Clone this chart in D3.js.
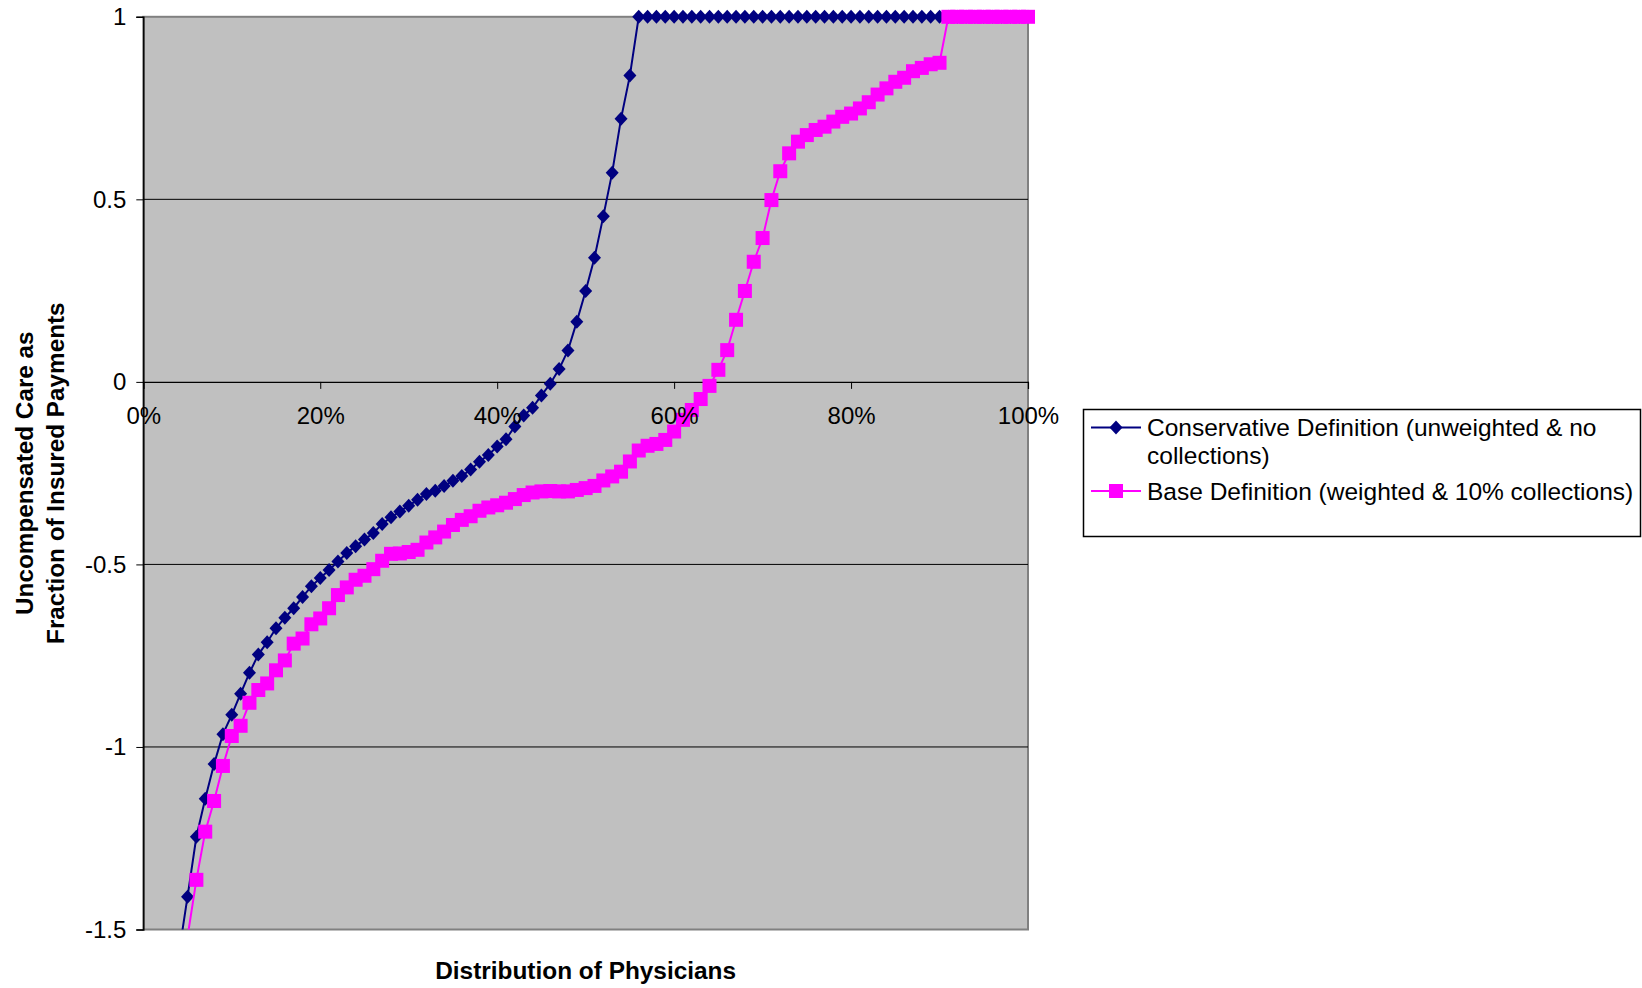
<!DOCTYPE html>
<html>
<head>
<meta charset="utf-8">
<script src="https://cdn.jsdelivr.net/npm/d3@7"></script>
<style>
  html, body { margin: 0; padding: 0; background: #ffffff; }
  svg { display: block; }
  text { font-family: "Liberation Sans", Arial, sans-serif; fill: #000; }
</style>
</head>
<body>
<svg id="chart" width="1642" height="988"></svg>
<script>
// ---- data ----
const pct = [1,2,3,4,5,6,7,8,9,10,11,12,13,14,15,16,17,18,19,20,
  21,22,23,24,25,26,27,28,29,30,31,32,33,34,35,36,37,38,39,40,
  41,42,43,44,45,46,47,48,49,50,51,52,53,54,55,56,57,58,59,60,
  61,62,63,64,65,66,67,68,69,70,71,72,73,74,75,76,77,78,79,80,
  81,82,83,84,85,86,87,88,89,90,91,92,93,94,95,96,97,98,99,100];

const conservative = [null,null,null,-1.57,-1.41,-1.246,-1.142,-1.047,-0.965,-0.912,
  -0.854,-0.797,-0.747,-0.713,-0.675,-0.646,-0.620,-0.589,-0.560,-0.537,
  -0.515,-0.492,-0.469,-0.450,-0.432,-0.414,-0.389,-0.371,-0.355,-0.339,
  -0.323,-0.307,-0.298,-0.285,-0.271,-0.258,-0.240,-0.219,-0.200,-0.177,
  -0.157,-0.122,-0.092,-0.071,-0.037,-0.005,0.035,0.086,0.165,0.249,
  0.340,0.454,0.573,0.721,0.839,1,1,1,1,1,
  1,1,1,1,1,1,1,1,1,1,
  1,1,1,1,1,1,1,1,1,1,
  1,1,1,1,1,1,1,1,1,1,
  1,1,1,1,1,1,1,1,1,1];

const base = [null,null,null,null,-1.52,-1.364,-1.232,-1.148,-1.052,-0.970,
  -0.942,-0.879,-0.844,-0.826,-0.790,-0.763,-0.717,-0.703,-0.664,-0.648,
  -0.620,-0.584,-0.563,-0.542,-0.531,-0.513,-0.490,-0.471,-0.470,-0.466,
  -0.460,-0.440,-0.426,-0.410,-0.392,-0.378,-0.368,-0.353,-0.344,-0.338,
  -0.331,-0.321,-0.310,-0.303,-0.300,-0.299,-0.300,-0.300,-0.296,-0.291,
  -0.285,-0.270,-0.259,-0.246,-0.218,-0.188,-0.175,-0.170,-0.159,-0.136,
  -0.104,-0.077,-0.047,-0.011,0.033,0.087,0.170,0.249,0.329,0.394,
  0.498,0.577,0.626,0.658,0.676,0.690,0.699,0.713,0.726,0.735,
  0.749,0.766,0.787,0.804,0.822,0.833,0.851,0.860,0.870,0.874,
  1,1,1,1,1,1,1,1,1,1];

const xTicks = [0,20,40,60,80,100];
const yTicks = [1,0.5,0,-0.5,-1,-1.5];
const xTitle = "Distribution of Physicians";
const yTitleLines = ["Uncompensated Care as", "Fraction of Insured Payments"];
const legendSeries1 = ["Conservative Definition (unweighted & no", "collections)"];
const legendSeries2 = ["Base Definition (weighted & 10% collections)"];

// ---- layout ----
const svg = d3.select("#chart");
const L = 143.3, R = 1028, T = 16.8, B = 929.5;
const x = d3.scaleLinear().domain([0, 100]).range([L, R]);
const y = d3.scaleLinear().domain([-1.5, 1]).range([B, T]);

const BLUE = "#000080", PINK = "#FF00FF";
const FONT = "Liberation Sans, Arial, sans-serif";

// plot background
svg.append("rect").attr("x", L).attr("y", T).attr("width", R - L).attr("height", B - T)
  .attr("fill", "#C0C0C0").attr("stroke", "#808080").attr("stroke-width", 2);

// gridlines
svg.append("g").selectAll("line").data(yTicks.filter(v => v !== 0 && v !== 1 && v !== -1.5)).join("line")
  .attr("x1", L).attr("x2", R).attr("y1", d => y(d)).attr("y2", d => y(d))
  .attr("stroke", "#000").attr("stroke-width", 1);

// y axis
const yAxis = d3.axisLeft(y).tickValues(yTicks).tickSize(7).tickPadding(10)
  .tickFormat(d => String(d));
const gy = svg.append("g").attr("transform", `translate(${L},0)`).call(yAxis);
gy.select(".domain").attr("stroke", "#000").attr("stroke-width", 1.5);
gy.selectAll(".tick line").attr("stroke", "#000");
gy.selectAll(".tick text").attr("font-size", 24).attr("font-family", FONT).attr("fill", "#000");

// x axis line + ticks at y = 0 (labels drawn later, above the series)
const xAxisLine = d3.axisBottom(x).tickValues(xTicks).tickSize(7).tickFormat("");
const gx = svg.append("g").attr("transform", `translate(0,${y(0)})`).call(xAxisLine);
gx.select(".domain").attr("stroke", "#000").attr("stroke-width", 1.2);
gx.selectAll(".tick line").attr("stroke", "#000");

// clip for lines
svg.append("clipPath").attr("id", "plotclip").append("rect")
  .attr("x", L).attr("y", T - 2).attr("width", R - L + 10).attr("height", B - T + 2);

function seriesData(vals) {
  return pct.map((p, i) => ({ p, v: vals[i] }));
}
const line = d3.line().defined(d => d.v !== null).x(d => x(d.p)).y(d => y(d.v));
const inRange = d => d.v !== null && d.v >= -1.5 && d.v <= 1;

// conservative series
const d1 = seriesData(conservative);
svg.append("path").datum(d1).attr("clip-path", "url(#plotclip)")
  .attr("d", line).attr("fill", "none").attr("stroke", BLUE).attr("stroke-width", 2);
svg.append("g").selectAll("path").data(d1.filter(inRange)).join("path")
  .attr("transform", d => `translate(${x(d.p)},${y(d.v)})`)
  .attr("d", "M0,-7L6.5,0L0,7L-6.5,0Z").attr("fill", BLUE);

// base series
const d2 = seriesData(base);
svg.append("path").datum(d2).attr("clip-path", "url(#plotclip)")
  .attr("d", line).attr("fill", "none").attr("stroke", PINK).attr("stroke-width", 2);
svg.append("g").selectAll("rect").data(d2.filter(inRange)).join("rect")
  .attr("x", d => x(d.p) - 7).attr("y", d => y(d.v) - 7)
  .attr("width", 14).attr("height", 14).attr("fill", PINK);

// x tick labels (on top of the series)
const xLabels = d3.axisBottom(x).tickValues(xTicks).tickSize(7).tickPadding(18).tickFormat(d => d + "%");
const gxl = svg.append("g").attr("transform", `translate(0,${y(0)})`).call(xLabels);
gxl.select(".domain").remove();
gxl.selectAll(".tick line").remove();
gxl.selectAll(".tick text").attr("font-size", 24).attr("font-family", FONT).attr("fill", "#000");

// axis titles
svg.append("text").attr("x", (L + R) / 2).attr("y", 979).attr("text-anchor", "middle")
  .attr("font-size", 24.4).attr("font-weight", "bold").text(xTitle);

const yt = svg.append("g").attr("transform", `translate(0,${(T + B) / 2}) rotate(-90)`);
yTitleLines.forEach((t, i) => {
  yt.append("text").attr("x", 0).attr("y", 33 + i * 30.7).attr("text-anchor", "middle")
    .attr("font-size", 24.3).attr("font-weight", "bold").text(t);
});

// legend
const lg = svg.append("g");
lg.append("rect").attr("x", 1083.5).attr("y", 409.5).attr("width", 557).attr("height", 127)
  .attr("fill", "#fff").attr("stroke", "#000").attr("stroke-width", 1.5);
// entry 1
lg.append("line").attr("x1", 1091).attr("x2", 1141).attr("y1", 427.5).attr("y2", 427.5)
  .attr("stroke", BLUE).attr("stroke-width", 2);
lg.append("path").attr("transform", "translate(1116,427.5)").attr("d", "M0,-7L6.5,0L0,7L-6.5,0Z").attr("fill", BLUE);
legendSeries1.forEach((t, i) => {
  lg.append("text").attr("x", 1147).attr("y", 436 + i * 27.5).attr("font-size", 24.5).text(t);
});
// entry 2
lg.append("line").attr("x1", 1091).attr("x2", 1141).attr("y1", 491).attr("y2", 491)
  .attr("stroke", PINK).attr("stroke-width", 2);
lg.append("rect").attr("x", 1109).attr("y", 484).attr("width", 14).attr("height", 14).attr("fill", PINK);
legendSeries2.forEach((t, i) => {
  lg.append("text").attr("x", 1147).attr("y", 500 + i * 27.5).attr("font-size", 24.5).text(t);
});
</script>
</body>
</html>
